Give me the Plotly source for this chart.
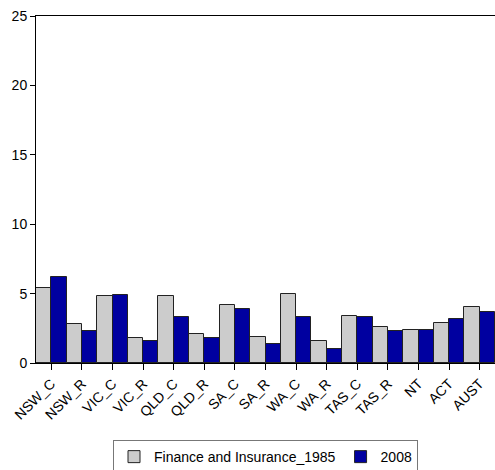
import plotly.graph_objects as go

# Datos
regiones = ["NSW_C", "NSW_R", "VIC_C", "VIC_R", "QLD_C", "QLD_R", "SA_C", "SA_R",
            "WA_C", "WA_R", "TAS_C", "TAS_R", "NT", "ACT", "AUST"]
finanzas_1985 = [5.4, 2.8, 4.8, 1.8, 4.8, 2.1, 4.2, 1.9, 5.0, 1.6, 3.4, 2.6, 2.4, 2.9, 4.0]
finanzas_2008 = [6.2, 2.3, 4.9, 1.6, 3.3, 1.8, 3.9, 1.4, 3.3, 1.0, 3.3, 2.3, 2.4, 3.2, 3.7]
ticks_y = [0, 5, 10, 15, 20, 25]

fig = go.Figure()

fig.add_trace(go.Bar(
    x=regiones, y=finanzas_1985, name="Finance and Insurance_1985",
    marker=dict(color="#CCCCCC", line=dict(color="#222222", width=1))
))
fig.add_trace(go.Bar(
    x=regiones, y=finanzas_2008, name="2008",
    marker=dict(color="#0000A0", line=dict(color="#222222", width=1))
))

fig.update_layout(
    width=495, height=470,
    barmode="group", bargap=0, bargroupgap=0,
    plot_bgcolor="white", paper_bgcolor="white",
    font=dict(family="Liberation Sans, Arial, sans-serif", size=14, color="black"),
    margin=dict(l=36, r=0, t=16, b=107, autoexpand=False),
    legend=dict(
        orientation="h", x=0.5, xanchor="center", y=-0.222, yanchor="top",
        bordercolor="#777777", borderwidth=1, font=dict(size=14),
        itemwidth=30, tracegroupgap=0
    ),
)

fig.update_xaxes(
    showline=True, linecolor="black", linewidth=1, mirror=True,
    ticks="outside", ticklen=6, tickcolor="black", tickangle=-45,
    showgrid=False, automargin=False
)
fig.update_yaxes(
    range=[0, 25], tickvals=ticks_y,
    showline=True, linecolor="black", linewidth=1,
    ticks="outside", ticklen=5, tickcolor="black",
    showgrid=False, zeroline=False, automargin=False
)

# quitar el margen por defecto del body para que el grafico ocupe toda la ventana
fig.write_html("out.html", config={"displayModeBar": False},
               post_script="document.body.style.margin='0';")
